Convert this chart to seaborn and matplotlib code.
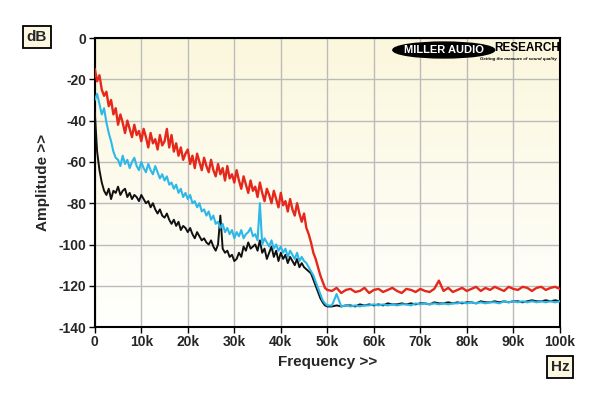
import numpy as np
import pandas as pd
import matplotlib
matplotlib.use("Agg")
import matplotlib.pyplot as plt
import matplotlib.patches as mpatches
import seaborn as sns

# widmo szumu, 0..50 kHz co 0.5 kHz (dB)
red_low = [
    -15, -21, -18, -25, -28, -26, -33, -30, -37, -34,
    -42, -37, -41, -46, -40, -44, -48, -42, -47, -45,
    -50, -44, -48, -53, -46, -51, -49, -54, -47, -52,
    -50, -44, -53, -47, -55, -51, -57, -53, -59, -56,
    -54, -61, -57, -63, -56, -60, -64, -58, -62, -65,
    -59, -64, -67, -61, -66, -63, -69, -62, -68, -66,
    -70, -64, -69, -73, -67, -71, -75, -69, -74, -72,
    -77, -70, -75, -79, -73, -76, -80, -74, -78, -82,
    -75, -81, -79, -84, -78, -83, -86, -80, -85, -89,
    -85, -92, -95, -99, -104, -107, -111, -115, -118, -121,
    -122,
]
cyan_low = [
    -30, -27, -32, -37, -34, -41, -46, -50, -55, -58,
    -59, -62, -57, -61, -59, -63, -60, -58, -62, -64,
    -60, -63, -65, -61, -64, -66, -62, -65, -68, -66,
    -69, -67, -71, -70, -73, -71, -75, -73, -77, -75,
    -78, -76, -80, -79, -82, -80, -84, -83, -86, -84,
    -88, -86, -90, -89, -92, -90, -94, -92, -95, -93,
    -97, -94, -96, -93, -97, -95, -94, -92, -96, -95,
    -98, -80, -100, -97, -99, -101, -98, -102, -100, -103,
    -101, -104, -102, -106, -103, -105, -107, -104, -108, -106,
    -108, -109, -111, -113, -115, -118, -121, -124, -127, -128.5,
    -129.5,
]
black_low = [
    -36, -55, -64, -70, -74, -76, -73, -78, -74, -75,
    -72, -76, -74, -73, -77, -75, -78, -76, -77, -79,
    -76, -78, -80, -79, -82, -80, -83, -85, -83, -86,
    -87, -85, -88, -90, -88, -91, -89, -93, -91, -92,
    -94, -92, -95, -97, -94, -96, -98, -97, -99, -100,
    -98, -101, -103, -100, -86, -102, -104, -103, -106, -105,
    -108, -107, -104, -106, -101, -103, -99, -102, -101, -100,
    -103, -98, -104, -102, -107, -104, -101, -106, -103, -108,
    -104, -107, -105, -109, -106, -108, -110, -107, -111, -109,
    -111, -112, -113, -114, -117, -120, -123, -126, -128, -129.5,
    -130,
]

# 51..100 kHz co 1 kHz (dB)
red_high = [
    -122.5, -121, -123.5, -122, -121.5, -123, -122.5, -121, -123.5, -122,
    -121.5, -123, -122, -121, -122.5, -123.5, -121.5, -122, -123, -121.5,
    -122.5, -123, -121.5, -117.5, -122.5, -121, -123, -122, -121, -122.5,
    -121.5, -120.5, -122.5, -121, -122, -120.5, -121.5, -122.5, -120.5, -121.5,
    -122, -120.5, -121, -122.5, -121, -120.5, -122, -121, -120.5, -121.5,
]
cyan_high = [
    -129.5, -124, -130, -129.5, -130, -129.5, -130, -129.5, -129.5, -129,
    -129.5, -129, -129.5, -129, -129.5, -129, -129, -129.5, -128.5, -129,
    -128.5, -129, -128.5, -129, -128.5, -129, -128.5, -128.5, -128, -128.5,
    -128, -128.5, -128, -128.5, -128, -128, -128.5, -127.5, -128, -127.5,
    -128, -127.5, -128, -127.5, -128, -127.5, -128, -127.5, -128, -127.5,
]
black_high = [
    -130, -129.5, -130, -129.5, -129.5, -130, -129, -129.5, -129, -129.5,
    -129, -129.5, -128.5, -129, -129, -128.5, -129, -128.5, -129, -128.5,
    -128.5, -129, -128, -128.5, -128.5, -128, -128.5, -128, -128.5, -128,
    -128, -128.5, -127.5, -128, -128, -127.5, -128, -127.5, -128, -127.5,
    -127.5, -128, -127.5, -127, -127.5, -127.5, -127, -127.5, -127, -127.5,
]

x_ticks = [0, 10, 20, 30, 40, 50, 60, 70, 80, 90, 100]
x_labels = ['0', '10k', '20k', '30k', '40k', '50k', '60k', '70k', '80k', '90k', '100k']
y_ticks = [0, -20, -40, -60, -80, -100, -120, -140]

series = [
    ('black', black_low, black_high, '#111111', 1.4),
    ('cyan', cyan_low, cyan_high, '#2DB8EA', 1.5),
    ('red', red_low, red_high, '#E5281B', 1.7),
]


def build_frame(low, high):
    freq = np.concatenate([np.arange(len(low)) * 0.5, 51 + np.arange(len(high))])
    return pd.DataFrame({'freq': freq, 'db': list(low) + list(high)})


def plot_spectrum():
    sns.set_style('white')
    plt.rcParams['font.family'] = ['Liberation Sans', 'DejaVu Sans']

    fig = plt.figure(figsize=(6, 3.96), dpi=100)
    ax = fig.add_axes([0.158, 0.174, 0.775, 0.730])

    # kremowe tło z gradientem (góra bardziej żółta)
    grad = np.linspace(0, 1, 256).reshape(-1, 1)
    cmap = matplotlib.colors.LinearSegmentedColormap.from_list('bg', ['#FBF7DD', '#FFFFFD'])
    ax.imshow(grad, cmap=cmap, extent=[0, 100, -140, 0], origin='upper',
              aspect='auto', zorder=0)

    for name, low, high, color, lw in series:
        df = build_frame(low, high)
        sns.lineplot(data=df, x='freq', y='db', color=color, lw=lw, ax=ax,
                     estimator=None, zorder=3)

    ax.set_xlim(0, 100)
    ax.set_ylim(-140, 0)
    ax.set_axisbelow(True)
    ax.grid(True, color='#BBBBBB', lw=1)
    ax.set_xticks(x_ticks)
    ax.set_xticklabels(x_labels, fontsize=10, fontweight='bold')
    ax.set_yticks(y_ticks)
    ax.set_yticklabels([str(v) for v in y_ticks], fontsize=10, fontweight='bold')
    ax.tick_params(axis='both', direction='out', length=4, width=1, color='black',
                   left=True, bottom=True, pad=2)
    for s in ax.spines.values():
        s.set_color('black')
        s.set_linewidth(1.5)

    ax.set_xlabel('Frequency >>', fontsize=11, fontweight='bold', labelpad=4)
    ax.set_ylabel('Amplitude >>', fontsize=11, fontweight='bold', labelpad=6)

    box = dict(boxstyle='square,pad=0.25', fc='#FBF7E0', ec='black', lw=1.3)
    fig.text(37 / 600, 1 - 37 / 396, 'dB', fontsize=11, fontweight='bold',
             ha='center', va='center', bbox=box)
    fig.text(560 / 600, 1 - 367 / 396, 'Hz', fontsize=11, fontweight='bold',
             ha='center', va='center', bbox=box)

    # logo
    ax.add_patch(mpatches.Ellipse((0.7505, 0.9585), 0.219, 0.055, transform=ax.transAxes,
                                  color='black', zorder=5))
    ax.text(0.75, 0.958, 'MILLER AUDIO', transform=ax.transAxes, color='white',
            fontsize=8, fontweight='bold', ha='center', va='center', zorder=6)
    ax.text(0.93, 0.965, 'RESEARCH', transform=ax.transAxes, color='black',
            fontsize=8.5, fontweight='bold', ha='center', va='center', zorder=6)
    ax.text(0.91, 0.927, 'Getting the measure of sound quality', transform=ax.transAxes,
            color='black', fontsize=3.2, fontweight='bold', style='italic',
            ha='center', va='center', zorder=6)

    fig.savefig('out.png', dpi=100, facecolor='white')


plot_spectrum()
